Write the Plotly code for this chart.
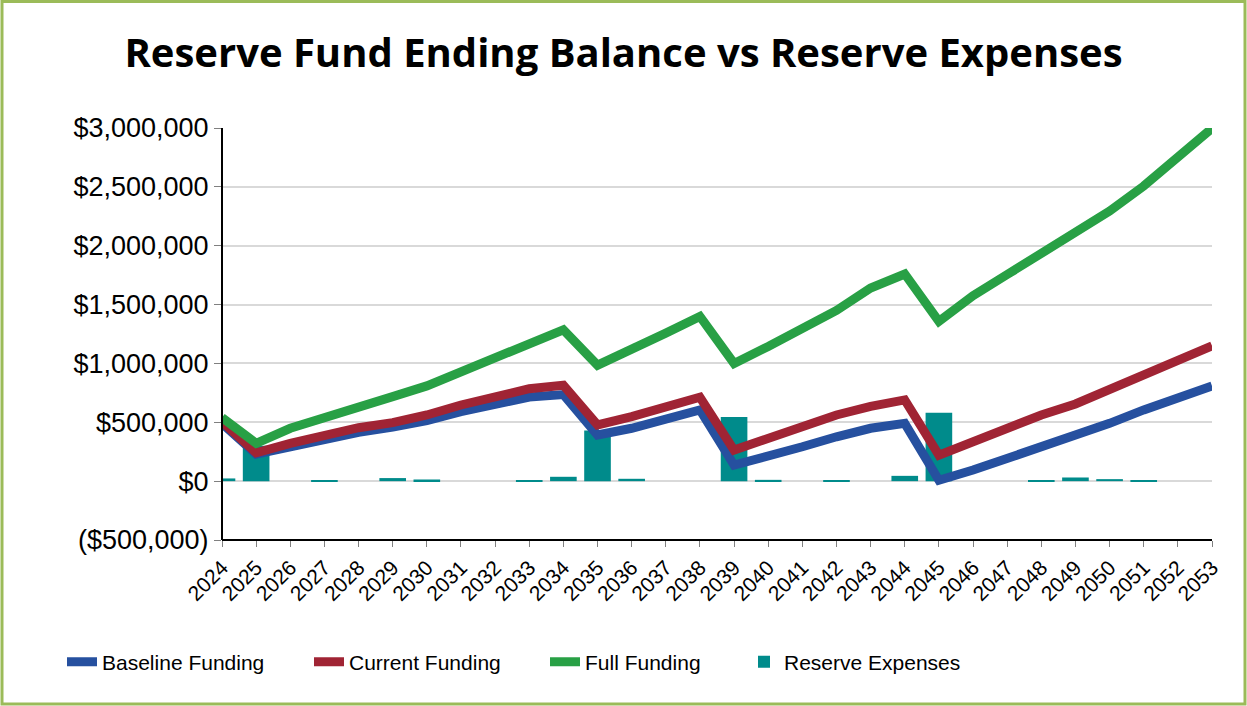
import plotly.graph_objects as go

years = list(range(2024, 2054))

baseline_funding = [490000, 230000, 292000, 355000, 415000, 460000, 515000, 590000, 660000, 715000,
                    735000, 392000, 449000, 520000, 605000, 136000, 207000, 292000, 377000, 449000,
                    491000, 8000, 94000, 193000, 292000, 383000, 491000, 605000, 704000, 809000]

current_funding = [505000, 241000, 321000, 392000, 454000, 497000, 562000, 647000, 718000, 785000,
                   815000, 477000, 548000, 633000, 713000, 264000, 364000, 463000, 562000, 635000,
                   690000, 221000, 335000, 449000, 562000, 656000, 775000, 903000, 1022000, 1150000]

full_funding = [540000, 321000, 449000, 545000, 639000, 718000, 809000, 931000, 1054000, 1178000,
                1286000, 985000, 1116000, 1258000, 1400000, 1000000, 1144000, 1300000, 1450000, 1640000,
                1760000, 1357000, 1575000, 1755000, 1930000, 2110000, 2294000, 2507000, 2754000, 2998000]

reserve_expenses = [23000, 300000, 0, 5000, 0, 26000, 14000, 0, 0, 10000,
                    37000, 430000, 20000, 0, 0, 545000, 11000, 0, 10000, 0,
                    45000, 582000, 0, 0, 10000, 31000, 17000, 10000, 0, 0]

y_tick_vals = [-500000, 0, 500000, 1000000, 1500000, 2000000, 2500000, 3000000]
y_tick_text = ["($500,000)", "$0", "$500,000", "$1,000,000", "$1,500,000",
               "$2,000,000", "$2,500,000", "$3,000,000"]

fig = go.Figure()

fig.add_trace(go.Bar(x=years, y=reserve_expenses, name="Reserve Expenses",
                     marker=dict(color="#008B8B", line=dict(width=0)),
                     width=0.78, legend="legend4"))
fig.add_trace(go.Scatter(x=years, y=baseline_funding, name="Baseline Funding", mode="lines",
                         line=dict(color="#26509F", width=9), legend="legend"))
fig.add_trace(go.Scatter(x=years, y=current_funding, name="Current Funding", mode="lines",
                         line=dict(color="#A02434", width=9), legend="legend2"))
fig.add_trace(go.Scatter(x=years, y=full_funding, name="Full Funding", mode="lines",
                         line=dict(color="#28A045", width=9), legend="legend3"))

L, R, T, B = 222, 35, 128, 166
W, H = 1247, 706
pw, ph = W - L - R, H - T - B


def legend_at(text_x):
    return dict(orientation="h", xref="container", yref="container",
                x=(text_x - 41) / W, xanchor="left", y=1 - 662 / H, yanchor="middle",
                font=dict(family="Liberation Sans", size=21, color="black"),
                bgcolor="rgba(0,0,0,0)")


fig.update_layout(
    width=W, height=H,
    margin=dict(l=L, r=R, t=T, b=B, pad=0),
    paper_bgcolor="white", plot_bgcolor="white",
    title=dict(text="<b>Reserve Fund Ending Balance vs Reserve Expenses</b>",
               x=0.5, xref="container", xanchor="center",
               y=1 - 53 / H, yref="container", yanchor="middle",
               font=dict(family="Open Sans", size=40, color="black")),
    font=dict(family="Liberation Sans", color="black"),
    showlegend=True,
    legend=legend_at(103),
    legend2=legend_at(350),
    legend3=legend_at(586),
    legend4=legend_at(785),
    xaxis=dict(range=[2024, 2053], tickmode="array", tickvals=years,
               ticktext=[str(y) for y in years], tickangle=-45,
               tickfont=dict(family="Liberation Sans", size=21, color="black"),
               ticks="outside", ticklen=6, tickcolor="#808080", tickwidth=1,
               showline=False, showgrid=False, zeroline=False, fixedrange=True),
    yaxis=dict(range=[-500000, 3000000], tickmode="array", tickvals=y_tick_vals,
               ticktext=y_tick_text,
               tickfont=dict(family="Liberation Sans", size=27, color="black"),
               ticks="outside", ticklen=7, tickcolor="#808080", tickwidth=1,
               showgrid=True, gridcolor="#D9D9D9", gridwidth=2,
               showline=False, zeroline=False),
    shapes=[
        dict(type="line", xref="paper", yref="paper", x0=0, x1=0, y0=0, y1=1,
             line=dict(color="black", width=2)),
        dict(type="line", xref="paper", yref="paper", x0=0, x1=1, y0=0, y1=0,
             line=dict(color="black", width=2)),
        dict(type="rect", xref="paper", yref="paper",
             x0=(2 - L) / pw, x1=(W - 2 - L) / pw,
             y0=(H - B - (H - 2)) / ph, y1=(H - B - 1.5) / ph,
             line=dict(color="#9BBB59", width=3), fillcolor="rgba(0,0,0,0)"),
    ],
)

fig.write_html("out.html", config={"displayModeBar": False},
               post_script="document.body.style.margin='0';document.body.style.overflow='hidden';")
